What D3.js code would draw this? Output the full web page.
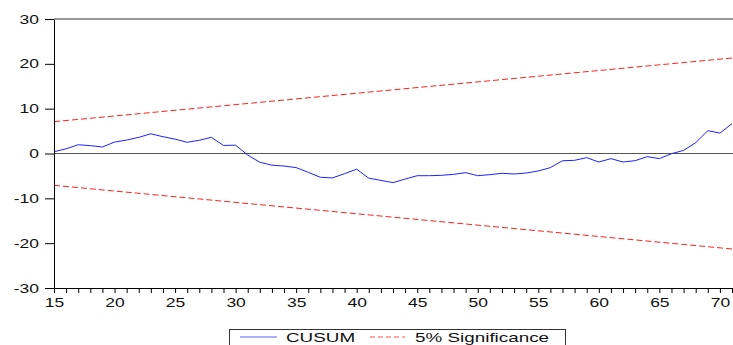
<!DOCTYPE html>
<html>
	<head>
		<meta charset="utf-8">
		<script src="https://d3js.org/d3.v7.min.js"></script>
		<title>CUSUM</title>
		<style>
			body { margin: 0; background: #fff; }
			text { font-family: "Liberation Sans", Arial, sans-serif; fill: #111; }
		</style>
	</head>
	<body>
		<svg width="733" height="345"></svg>
		<script>
			// observation index and recursive CUSUM values
			const periods = d3.range(15, 72);
			const cusum = [0.4, 1.05, 1.95, 1.75, 1.45, 2.55, 3.0, 3.6, 4.4, 3.75,
				3.2, 2.5, 2.95, 3.6, 1.8, 1.85, -0.35, -1.95, -2.6, -2.8,
				-3.15, -4.2, -5.3, -5.45, -4.5, -3.5, -5.5, -6.0, -6.5, -5.7,
				-4.95, -4.95, -4.87, -4.65, -4.27, -4.95, -4.72, -4.42, -4.57, -4.35,
				-3.9, -3.15, -1.62, -1.52, -0.93, -1.9, -1.15, -1.9, -1.6, -0.7,
				-1.15, -0.05, 0.7, 2.4, 5.1, 4.55, 6.65];
			// 5% significance bounds (straight lines, endpoints only)
			const sigPeriods = [15, 71];
			const sigUpper = [7.1, 21.3];
			const sigLower = [-7.1, -21.3];
			const yTicks = [-30, -20, -10, 0, 10, 20, 30];

			const svg = d3.select("svg");
			const x = d3.scaleLinear().domain([15, 71]).range([54, 732]);
			const y = d3.scaleLinear().domain([-30, 30]).range([288, 19]);

			// top border and zero line
			svg.append("line")
				.attr("x1", 54).attr("x2", 733)
				.attr("y1", y(30)).attr("y2", y(30))
				.attr("stroke", "#333").attr("stroke-width", 1);
			svg.append("line")
				.attr("x1", 54).attr("x2", 733)
				.attr("y1", y(0)).attr("y2", y(0))
				.attr("stroke", "#555").attr("stroke-width", 1);

			const line = d3.line()
				.x(function(d) { return x(d[0]); })
				.y(function(d) { return y(d[1]); });

			svg.append("path")
				.datum(d3.zip(sigPeriods, sigUpper))
				.attr("d", line)
				.attr("fill", "none").attr("stroke", "#ff2020")
				.attr("stroke-width", 1).attr("stroke-dasharray", "6,3");
			svg.append("path")
				.datum(d3.zip(sigPeriods, sigLower))
				.attr("d", line)
				.attr("fill", "none").attr("stroke", "#ff2020")
				.attr("stroke-width", 1).attr("stroke-dasharray", "6,3");

			svg.append("path")
				.datum(d3.zip(periods, cusum))
				.attr("d", line)
				.attr("fill", "none").attr("stroke", "#2020ff")
				.attr("stroke-width", 1);

			// axes
			const xAxis = svg.append("g")
				.attr("transform", "translate(0,288)")
				.call(d3.axisBottom(x)
					.tickValues(periods)
					.tickSize(5)
					.tickPadding(5)
					.tickSizeOuter(0)
					.tickFormat(function(d) { return d % 5 === 0 ? String(d) : ""; }));
			xAxis.select(".domain").attr("stroke", "#000").attr("d", "M54,0.5H733");
			xAxis.selectAll("line").attr("stroke", "#000");
			xAxis.selectAll("text")
				.attr("font-size", 12.5)
				.attr("fill", "#111")
				.attr("transform", "scale(1.4,1)");

			const yAxis = svg.append("g")
				.attr("transform", "translate(54,0)")
				.call(d3.axisLeft(y)
					.tickValues(yTicks)
					.tickSize(9)
					.tickSizeOuter(0)
					.tickFormat(function(d) { return String(d); }));
			yAxis.select(".domain").attr("stroke", "#000");
			yAxis.selectAll("line").attr("stroke", "#000");
			yAxis.selectAll("text")
				.attr("font-size", 12.5)
				.attr("fill", "#111")
				.attr("x", 0)
				.attr("transform", "translate(-15,0) scale(1.4,1)");

			// legend
			const legend = svg.append("g");
			legend.append("rect")
				.attr("x", 229.5).attr("y", 329.5)
				.attr("width", 336).attr("height", 24)
				.attr("fill", "#fff").attr("stroke", "#333");
			legend.append("line")
				.attr("x1", 240).attr("x2", 277).attr("y1", 337).attr("y2", 337)
				.attr("stroke", "#6060ff");
			legend.append("text")
				.attr("transform", "translate(286,342) scale(1.45,1)")
				.attr("font-size", 13)
				.text("CUSUM");
			legend.append("line")
				.attr("x1", 370).attr("x2", 405).attr("y1", 337).attr("y2", 337)
				.attr("stroke", "#ff5050").attr("stroke-dasharray", "5,3");
			legend.append("text")
				.attr("transform", "translate(415,342) scale(1.45,1)")
				.attr("font-size", 13)
				.text("5% Significance");
		</script>
	</body>
</html>
